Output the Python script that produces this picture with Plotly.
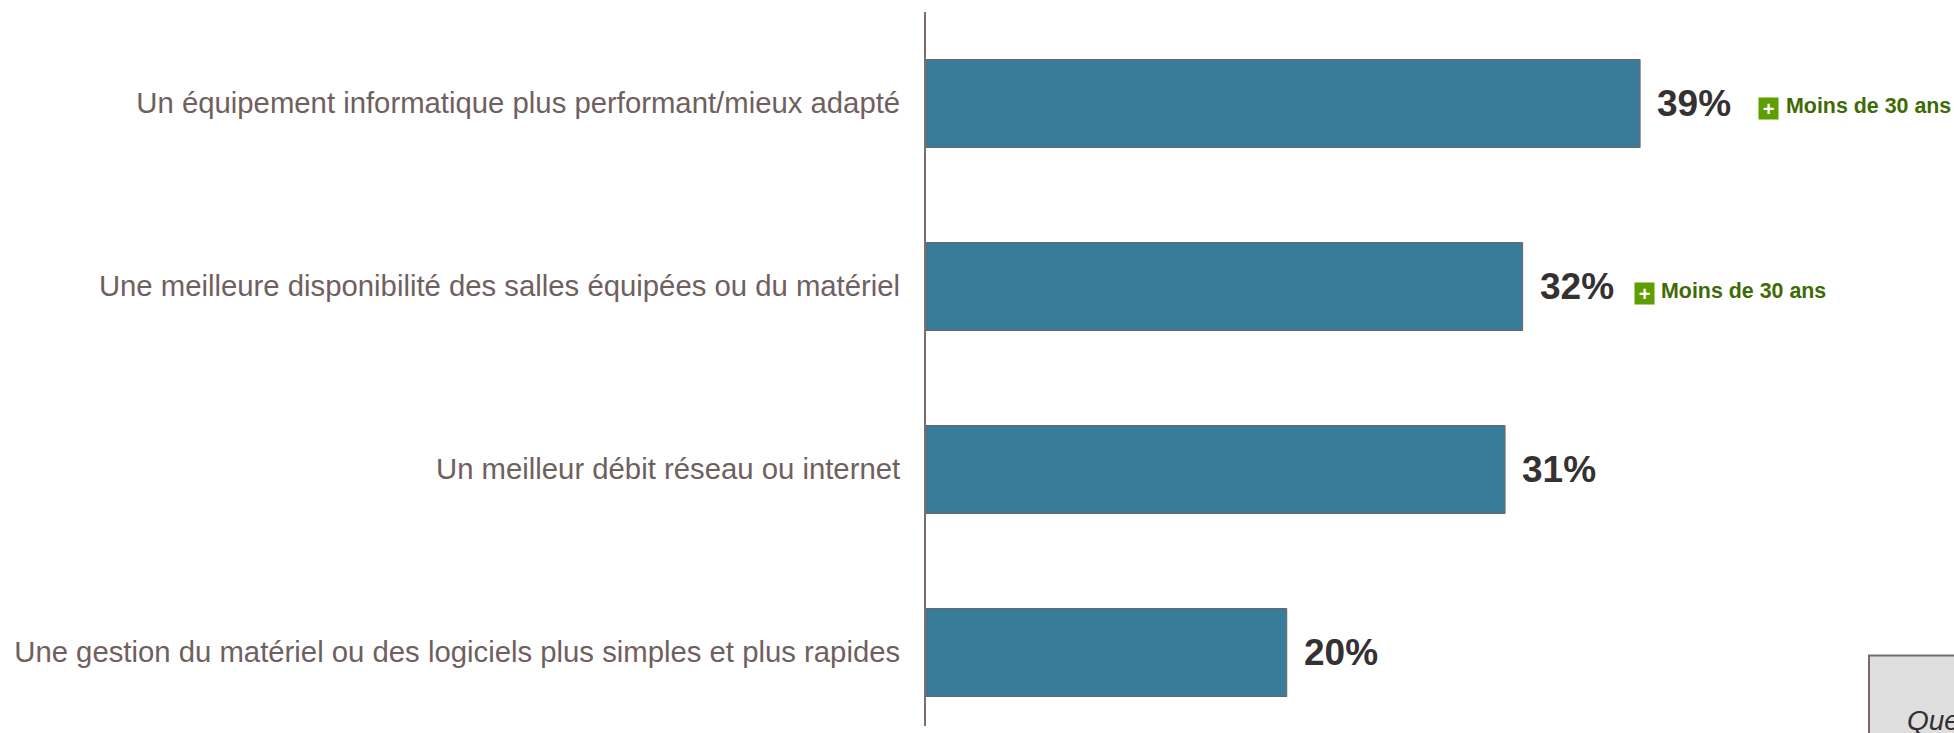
import plotly.graph_objects as go

categories = [
    "Un équipement informatique plus performant/mieux adapté",
    "Une meilleure disponibilité des salles équipées ou du matériel",
    "Un meilleur débit réseau ou internet",
    "Une gestion du matériel ou des logiciels plus simples et plus rapides",
]
values = [38.6, 32.25, 31.3, 19.5]
value_labels = ["39%", "32%", "31%", "20%"]
badges = ["Moins de 30 ans", "Moins de 30 ans", None, None]

W, H = 1954, 733
PLOT_LEFT, PLOT_TOP, PLOT_BOTTOM = 926, 12, 726
PX_PER_UNIT = 18.5
PX_PER_CAT = 183
FONT = "Liberation Sans, Arial, sans-serif"


def paper_x(px):
    return (px - PLOT_LEFT) / (W - PLOT_LEFT)


def paper_y(py):
    return (PLOT_BOTTOM - py) / (PLOT_BOTTOM - PLOT_TOP)


fig = go.Figure(
    go.Bar(
        y=categories,
        x=values,
        orientation="h",
        width=88 / PX_PER_CAT,
        marker=dict(color="#397c99", line=dict(color="#6f6464", width=1)),
        hoverinfo="skip",
    )
)

annotations = []
for i, (cat, val, lab, badge) in enumerate(zip(categories, values, value_labels, badges)):
    annotations.append(dict(
        x=val, y=cat, xref="x", yref="y", text=f"<b>{lab}</b>", showarrow=False,
        xanchor="left", yanchor="middle", xshift=15, align="left",
        font=dict(family=FONT, size=37, color="#353032"),
    ))
    if badge:
        shift = 118 if i == 0 else 111
        drop = 0 if i == 0 else 2
        annotations.append(dict(
            x=val, y=cat, xref="x", yref="y", text="<b>+</b>", showarrow=False,
            xanchor="left", yanchor="middle", xshift=shift, yshift=-5 - drop,
            width=19, height=21, bgcolor="#5f9e00", borderpad=0, align="center",
            font=dict(family=FONT, size=20, color="#ffffff"),
        ))
        annotations.append(dict(
            x=val, y=cat, xref="x", yref="y", text=f"<b>{badge}</b>", showarrow=False,
            xanchor="left", yanchor="middle", xshift=shift + 25 + (i == 0), yshift=-2 - drop, align="left",
            font=dict(family=FONT, size=21.4, color="#3f6b06"),
        ))

annotations.append(dict(
    x=paper_x(1905), y=paper_y(720), xref="paper", yref="paper", text="<i>Que</i>", showarrow=False,
    xanchor="left", yanchor="middle",
    font=dict(family=FONT, size=28, color="#353032"),
))

fig.update_layout(
    width=W, height=H,
    margin=dict(l=PLOT_LEFT, r=0, t=PLOT_TOP, b=H - PLOT_BOTTOM, autoexpand=False),
    paper_bgcolor="#ffffff", plot_bgcolor="#ffffff",
    showlegend=False,
    annotations=annotations,
    shapes=[dict(
        type="rect", xref="paper", yref="paper",
        x0=paper_x(1869), x1=paper_x(W + 10), y0=paper_y(H + 10), y1=paper_y(655.5),
        fillcolor="#dedede", line=dict(color="#796b6b", width=2), layer="below",
    )],
    xaxis=dict(
        range=[0, (W - PLOT_LEFT) / PX_PER_UNIT],
        visible=False, showgrid=False, zeroline=False,
    ),
    yaxis=dict(
        range=[(PLOT_BOTTOM - PLOT_TOP) / PX_PER_CAT - 0.5, -0.5],
        type="category", categoryorder="array", categoryarray=categories,
        showgrid=False, zeroline=False, showline=True, linecolor="#7a6e6e", linewidth=2,
        ticks="", ticklabelstandoff=18, ticklabelshift=1,
        tickfont=dict(family=FONT, size=29.3, color="#6f6060"),
    ),
)

fig.write_html("out.html", config={"displayModeBar": False}, post_script="document.body.style.margin='0';")
